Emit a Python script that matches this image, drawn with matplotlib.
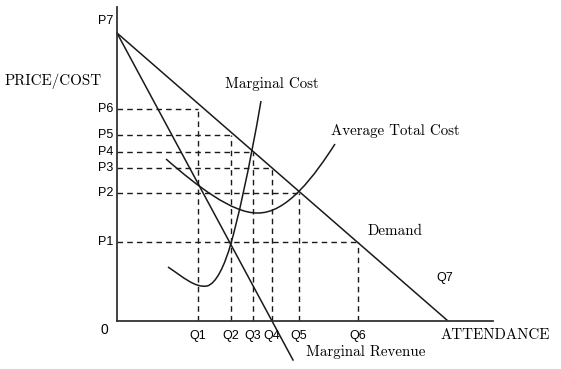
import matplotlib
matplotlib.use("Agg")
import matplotlib.pyplot as plt
from matplotlib.path import Path
from matplotlib.patches import PathPatch

# quantities and prices (chart units)
q_names = ["Q1", "Q2", "Q3", "Q4", "Q5", "Q6"]
q_vals = [81, 114, 136, 155, 182, 241]
p_names = ["P1", "P2", "P3", "P4", "P5", "P6"]
p_vals = [79, 128, 153, 169, 186, 212]
p7 = 300

# straight lines
demand_x = [0, 331]
demand_y = [288, 0]
mr_x = [0, 176]
mr_y = [288, -39]

# curves as bezier points (start, ctrl, ctrl, end, ctrl, ctrl, end ...)
mc_pts = [(51, 54), (66, 44), (78, 33), (90, 35),
          (99, 37), (108, 56), (114, 78),
          (120, 98), (132, 150), (144, 220)]
atc_pts = [(49, 162), (80, 135), (115, 108), (140, 108),
           (170, 107), (198, 146), (218, 177)]

# P6 goes with Q1, P5 with Q2 ... P1 with Q6
pairs = list(zip(q_vals, p_vals[::-1]))

serif = "cmr10"
sans = "Liberation Sans"
ink = "#1a1a1a"


def bezier(pts):
    codes = [Path.MOVETO] + [Path.CURVE4] * (len(pts) - 1)
    return PathPatch(Path(pts, codes), fill=False, edgecolor=ink, lw=1.1)


fig = plt.figure(figsize=(5.61, 3.69), dpi=100)
ax = fig.add_axes([117 / 561, 48 / 369, 376 / 561, 314 / 369])
ax.set_xlim(0, 376)
ax.set_ylim(0, 314)
for s in ["top", "right"]:
    ax.spines[s].set_visible(False)
for s in ["left", "bottom"]:
    ax.spines[s].set_color("#333333")
    ax.spines[s].set_linewidth(1.3)
ax.set_xticks([])
ax.set_yticks([])

for q, p in pairs:
    ax.plot([0, q], [p, p], ls=(0, (4, 3)), color=ink, lw=1.0)
    ax.plot([q, q], [0, p], ls=(0, (4, 3)), color=ink, lw=1.0)

ax.plot(demand_x, demand_y, color=ink, lw=1.1)
ax.plot(mr_x, mr_y, color=ink, lw=1.1, clip_on=False)
ax.add_patch(bezier(mc_pts))
ax.add_patch(bezier(atc_pts))

# axis labels
for name, p in zip(p_names, p_vals):
    ax.text(-4, p, name, ha="right", va="center", fontsize=9, family=sans)
ax.text(-4, p7, "P7", ha="right", va="center", fontsize=9, family=sans)
for name, q in zip(q_names, q_vals):
    ax.text(q, -15, name, ha="center", va="center", fontsize=9, family=sans)
ax.text(-13, -9, "0", ha="center", va="center", fontsize=10, family=sans)

fs = 10.8
ax.text(-112, 240, "PRICE/COST", ha="left", va="center", fontsize=fs, family=serif)
ax.text(324, -14, "ATTENDANCE", ha="left", va="center", fontsize=fs, family=serif)
ax.text(155, 237, "Marginal Cost", ha="center", va="center", fontsize=fs, family=serif)
ax.text(214, 190, "Average Total Cost", ha="left", va="center", fontsize=fs, family=serif)
ax.text(278, 90, "Demand", ha="center", va="center", fontsize=fs, family=serif)
ax.text(189, -31, "Marginal Revenue", ha="left", va="center", fontsize=fs, family=serif)
ax.text(328, 43, "Q7", ha="center", va="center", fontsize=9, family=sans)

fig.savefig("out.png", dpi=100)
